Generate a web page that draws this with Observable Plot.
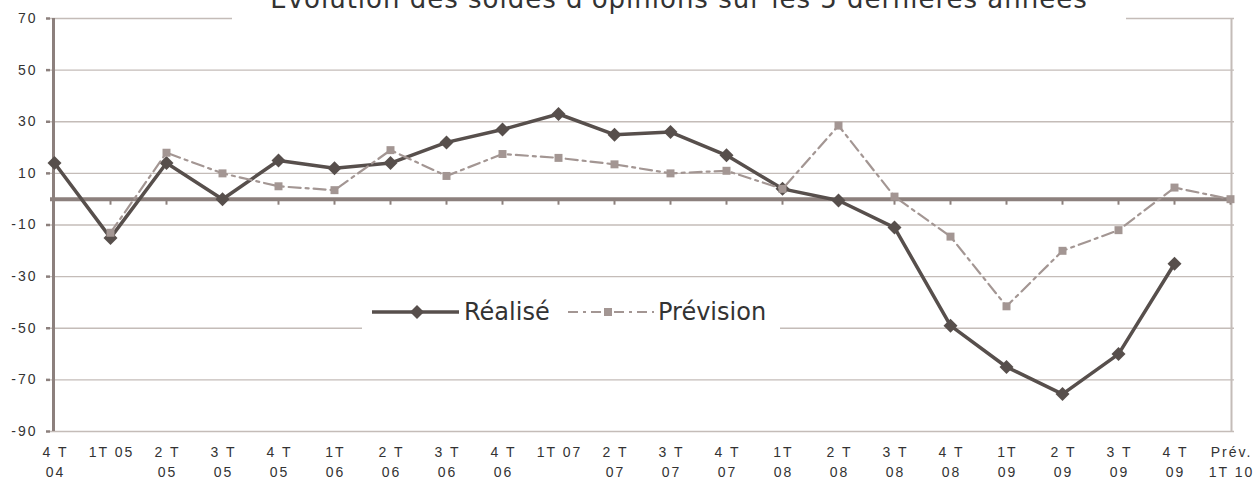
<!DOCTYPE html>
<html>
<head>
<meta charset="utf-8">
<script src="https://cdn.jsdelivr.net/npm/d3@7"></script>
<script src="https://cdn.jsdelivr.net/npm/@observablehq/plot@0.6"></script>
<style>
  html, body { margin: 0; padding: 0; background: white; }
  #wrap { position: relative; width: 1254px; height: 479px; overflow: hidden; }
  #title { position: absolute; left: 232px; top: 0; width: 894px; height: 21px; background: white; overflow: hidden; }
  #title span { position: absolute; left: 0; width: 100%; text-align: center; top: -14px; line-height: 26px;
    font-family: "DejaVu Sans", sans-serif; font-size: 26px; letter-spacing: 1px; color: #333; white-space: nowrap; }
  #legend { position: absolute; left: 362px; top: 294px; width: 418px; height: 37px; background: white; }
  g[aria-label="x-axis tick label"] text, g[aria-label="y-axis tick label"] text { letter-spacing: 2px; }
</style>
</head>
<body>
<div id="wrap">
  <div id="chart"></div>
  <div id="title"><span>Évolution des soldes d'opinions sur les 5 dernières années</span></div>
  <div id="legend"></div>
</div>
<script>
const categories = ["4 T\n04", "1T 05", "2 T\n05", "3 T\n05", "4 T\n05", "1T\n06", "2 T\n06", "3 T\n06", "4 T\n06", "1T 07", "2 T\n07", "3 T\n07", "4 T\n07", "1T\n08", "2 T\n08", "3 T\n08", "4 T\n08", "1T\n09", "2 T\n09", "3 T\n09", "4 T\n09", "Prév.\n1T 10"];
const realise = [14, -15, 14, 0, 15, 12, 14, 22, 27, 33, 25, 26, 17, 4, -0.5, -11, -49, -65, -75.5, -60, -25, null];
const prevision = [null, -13, 18, 10, 5, 3.5, 19, 9, 17.5, 16, 13.5, 10, 11, 4, 28.5, 1, -14.5, -41.5, -20, -12, 4.5, 0];
const yTicks = [-90, -70, -50, -30, -10, 10, 30, 50, 70];
const seriesNames = ["Réalisé", "Prévision"];

const data = categories.map((c, i) => ({cat: c, realise: realise[i], prevision: prevision[i]}));
const dReal = data.filter(d => d.realise != null);
const dPrev = data.filter(d => d.prevision != null);

const cDark = "#574f4c", cLight = "#a39693", cAxis = "#8c807d", cGrid = "#c4bcb8";

const chart = Plot.plot({
  width: 1254, height: 479,
  marginLeft: 50, marginRight: 20, marginTop: 18, marginBottom: 48,
  style: {fontFamily: "'Liberation Sans', Arial, sans-serif", fontSize: "14px", color: "#333", background: "white"},
  x: {type: "point", domain: categories, padding: 0},
  y: {domain: [-90, 70]},
  marks: [
    Plot.ruleY(yTicks, {stroke: cGrid, strokeWidth: 1.3}),
    Plot.ruleX([categories[categories.length - 1]], {stroke: cGrid, strokeWidth: 2, dx: 1}),
    Plot.ruleY([0], {stroke: cAxis, strokeWidth: 4}),
    Plot.ruleX(categories.slice(1), {y1: 0, y2: 0, insetBottom: -6, stroke: cAxis, strokeWidth: 2}),
    Plot.ruleX([categories[0]], {stroke: cAxis, strokeWidth: 3, dx: -1}),
    Plot.axisY(yTicks, {tickSize: 4, tickPadding: 9, stroke: cAxis, strokeWidth: 2.5, fill: "#333", fontSize: 14, tickFormat: d => String(d), label: null}),
    Plot.axisX({anchor: "bottom", tickSize: 0, tickPadding: 11, fill: "#333", fontSize: 14, lineHeight: 1.45, label: null, dx: 1}),
    Plot.line(dReal, {x: "cat", y: "realise", stroke: cDark, strokeWidth: 3.5}),
    Plot.dot(dReal, {x: "cat", y: "realise", symbol: "diamond2", r: 6.3, fill: cDark, stroke: "none"}),
    Plot.line(dPrev, {x: "cat", y: "prevision", stroke: cLight, strokeWidth: 2.2, strokeDasharray: "12,5,3,5"}),
    Plot.dot(dPrev, {x: "cat", y: "prevision", symbol: "square", r: 4.5, fill: cLight, stroke: "none"})
  ]
});
document.getElementById("chart").appendChild(chart);

const ns = "http://www.w3.org/2000/svg";
const lg = document.createElementNS(ns, "svg");
lg.setAttribute("width", 418); lg.setAttribute("height", 37);
lg.innerHTML = `
  <line x1="10" x2="97" y1="18" y2="18" stroke="${cDark}" stroke-width="3.5"/>
  <path d="M55,11L62,18L55,25L48,18Z" fill="${cDark}"/>
  <text x="102" y="18" dominant-baseline="central" font-family="DejaVu Sans, sans-serif" font-size="24" fill="#333">${seriesNames[0]}</text>
  <line x1="206" x2="292" y1="18" y2="18" stroke="${cLight}" stroke-width="2.2" stroke-dasharray="10,5,3,5"/>
  <rect x="242" y="14" width="8" height="8" fill="${cLight}"/>
  <text x="296" y="18" dominant-baseline="central" font-family="DejaVu Sans, sans-serif" font-size="24" fill="#333">${seriesNames[1]}</text>`;
document.getElementById("legend").appendChild(lg);
</script>
</body>
</html>
